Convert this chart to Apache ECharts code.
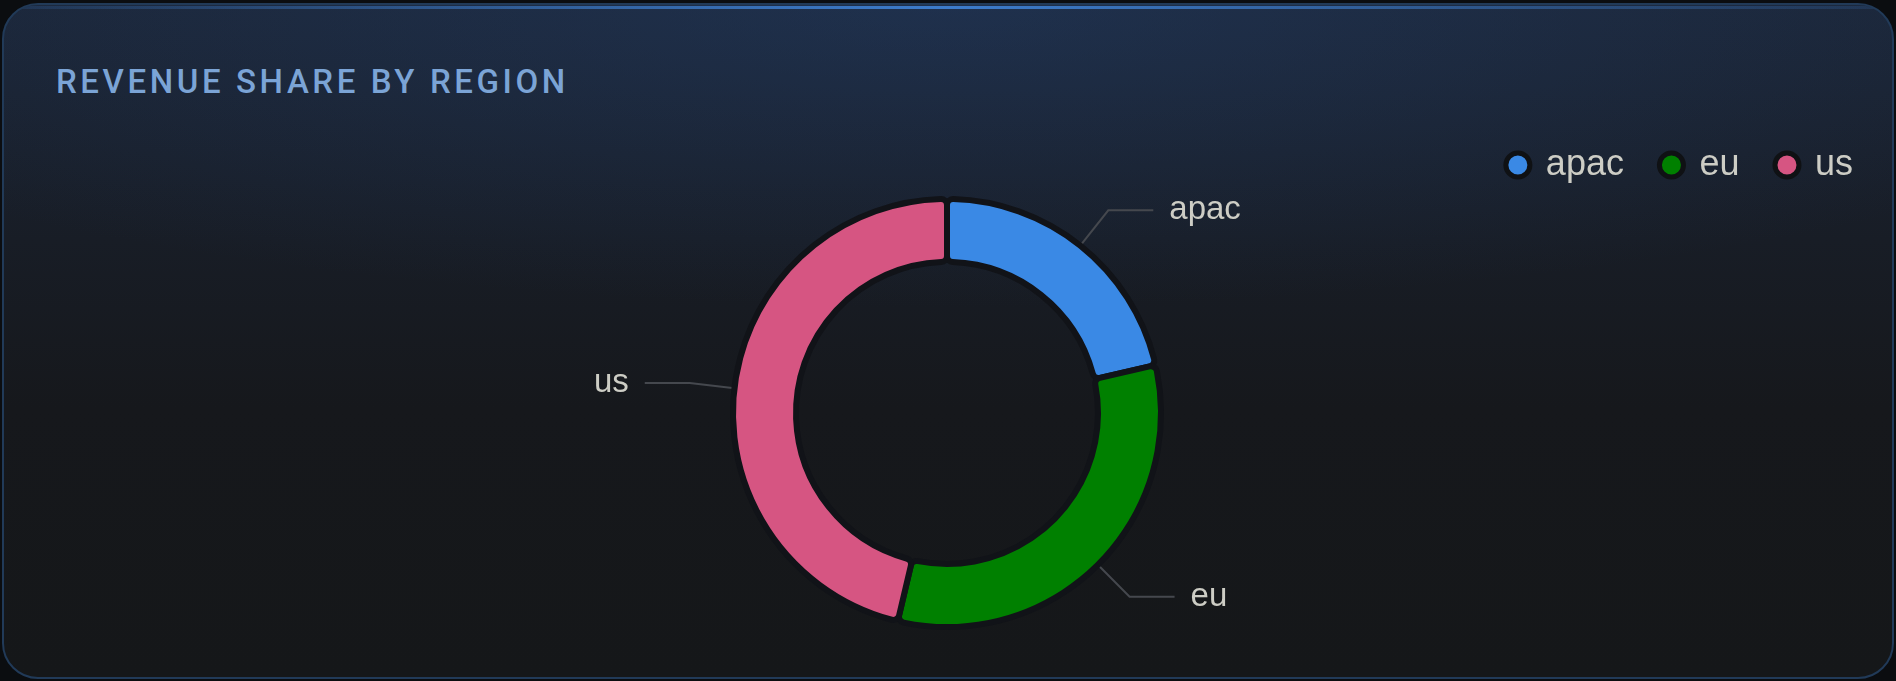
<!DOCTYPE html>
<html>
<head>
<meta charset="utf-8">
<script src="https://cdn.jsdelivr.net/npm/echarts@6/dist/echarts.min.js"></script>
<style>
  html, body { margin: 0; padding: 0; width: 1896px; height: 681px; background: #0b0d10; overflow: hidden; }
  #card {
    position: absolute; left: 2px; top: 3px; width: 1888px; height: 672px;
    border: 2px solid #213a58; border-radius: 36px;
    background:
      radial-gradient(ellipse 70% 45% at 50% 0%, rgba(38,70,120,0.35), rgba(38,70,120,0) 100%),
      linear-gradient(180deg, #1b2536 0%, #181d26 35%, #16181c 60%, #151719 100%);
    overflow: hidden;
  }
  #card::before {
    content: ""; position: absolute; left: 0; right: 0; top: 1px; height: 3px;
    background: linear-gradient(90deg, rgba(59,125,205,0.15) 0%, rgba(62,128,210,0.95) 50%, rgba(59,125,205,0.15) 100%);
  }
  #title {
    position: absolute; left: 56px; top: 65px; margin: 0;
    font-family: Roboto, "Liberation Sans", Arial, sans-serif; font-size: 33px; line-height: 33px;
    letter-spacing: 3.6px; color: #7ba4d6; font-weight: 500; white-space: nowrap;
  }
  #chart { position: absolute; left: 0; top: 0; width: 1896px; height: 681px; }
</style>
</head>
<body>
<div id="card"></div>
<div id="title">REVENUE SHARE BY REGION</div>
<div id="chart"></div>
<script>
const regions = ['apac', 'eu', 'us'];
const shares = [21.4, 32.3, 46.3];
const colors = ['#3a89e5', '#008000', '#d65582'];

const chart = echarts.init(document.getElementById('chart'), null, { renderer: 'canvas' });
const data = regions.map((name, i) => ({ name: name, value: shares[i], itemStyle: { color: colors[i] } }));

chart.setOption({
  backgroundColor: 'transparent',
  animation: false,
  legend: {
    data: regions,
    right: 38,
    top: 142,
    icon: 'circle',
    itemWidth: 46,
    itemHeight: 24,
    itemGap: 33,
    itemStyle: { borderColor: '#0f1114', borderWidth: 5 },
    textStyle: { color: '#cdcdc5', fontSize: 36, fontFamily: 'Liberation Sans, Arial, sans-serif' }
  },
  series: [{
    type: 'pie',
    center: [947, 413],
    radius: [151, 214],
    startAngle: 90,
    clockwise: true,
    data: data,
    itemStyle: { borderColor: '#111318', borderWidth: 6, borderRadius: 6 },
    label: {
      show: true,
      color: '#cdcdc5',
      fontSize: 33,
      fontFamily: 'Liberation Sans, Arial, sans-serif',
      distanceToLabelLine: 16
    },
    labelLine: {
      show: true,
      length: 45,
      length2: 45,
      lineStyle: { color: '#45484e', width: 2 }
    },
    emphasis: { disabled: true }
  }]
});
</script>
</body>
</html>
